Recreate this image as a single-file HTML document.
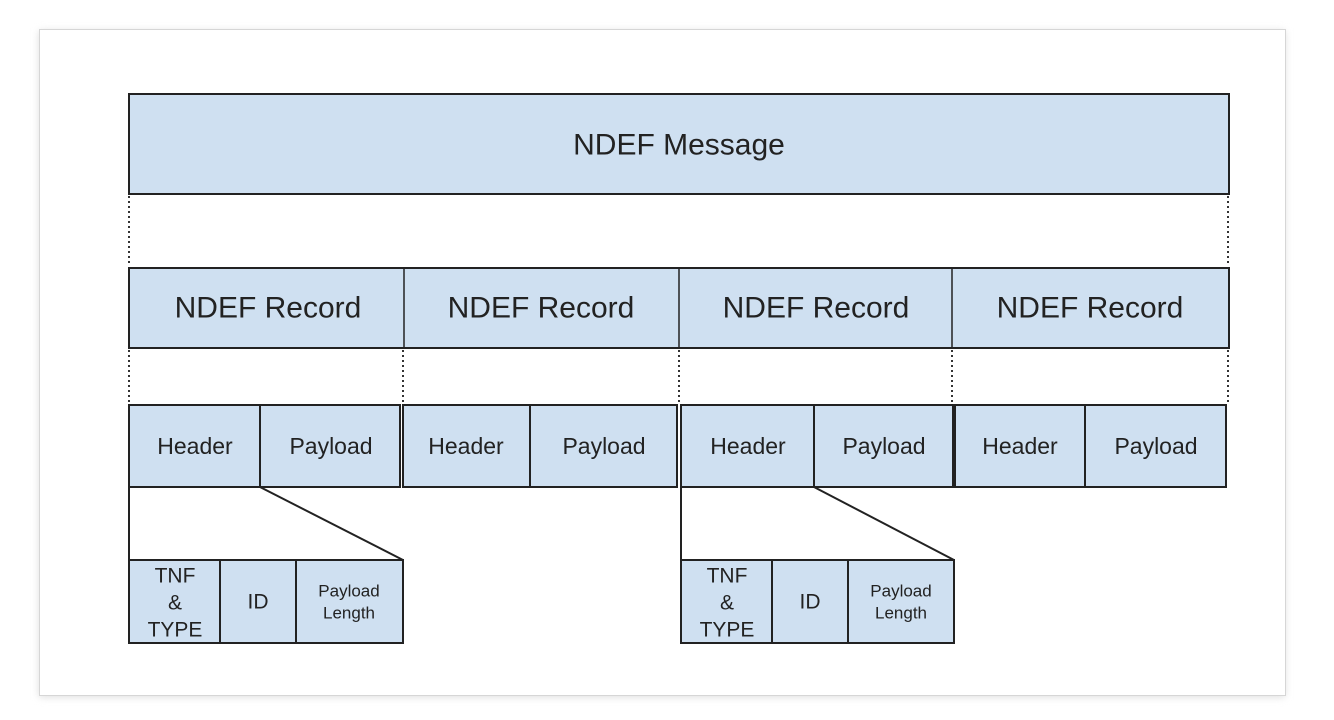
<!DOCTYPE html>
<html><head><style>
html,body{margin:0;padding:0;background:#fff;width:1334px;height:720px;overflow:hidden}
svg{display:block}
text{font-family:"Liberation Sans",Arial,sans-serif;fill:#222;text-anchor:middle;dominant-baseline:central}
</style></head><body>
<svg width="1334" height="720" viewBox="0 0 1334 720">
<defs><filter id="sh" x="-5%" y="-5%" width="110%" height="110%"><feGaussianBlur stdDeviation="4"/></filter></defs>
<rect x="39" y="31" width="1246" height="666" fill="#ddd" filter="url(#sh)"/>
<rect x="39.5" y="29.5" width="1246" height="666" fill="#fff" stroke="#d6d6d6"/>
<g stroke="#222" stroke-width="2" fill="#cfe0f1">
<rect x="129" y="94" width="1100" height="100"/>
<rect x="129" y="268" width="1100" height="80"/>
<rect x="129" y="405" width="131" height="82"/><rect x="260" y="405" width="140" height="82"/>
<rect x="403" y="405" width="127" height="82"/><rect x="530" y="405" width="147" height="82"/>
<rect x="681" y="405" width="133" height="82"/><rect x="814" y="405" width="139" height="82"/>
<rect x="955" y="405" width="130" height="82"/><rect x="1085" y="405" width="141" height="82"/>
<rect x="129" y="560" width="91" height="83"/><rect x="220" y="560" width="76" height="83"/><rect x="296" y="560" width="107" height="83"/>
<rect x="681" y="560" width="91" height="83"/><rect x="772" y="560" width="76" height="83"/><rect x="848" y="560" width="106" height="83"/>
</g>
<g stroke="#222" stroke-width="1.5" fill="none">
<line x1="404" y1="268" x2="404" y2="348"/><line x1="679" y1="268" x2="679" y2="348"/><line x1="952" y1="268" x2="952" y2="348"/>
</g>
<g stroke="#333" stroke-width="2" stroke-dasharray="2,3" fill="none">
<line x1="129" y1="196" x2="129" y2="266"/><line x1="1228" y1="196" x2="1228" y2="266"/>
<line x1="129" y1="350" x2="129" y2="403"/><line x1="403" y1="350" x2="403" y2="403"/>
<line x1="679" y1="350" x2="679" y2="403"/><line x1="952" y1="350" x2="952" y2="403"/><line x1="1228" y1="350" x2="1228" y2="403"/>
</g>
<g stroke="#222" stroke-width="2" fill="none">
<line x1="129" y1="487" x2="129" y2="560"/><line x1="260" y1="487" x2="403" y2="560"/>
<line x1="681" y1="487" x2="681" y2="560"/><line x1="814" y1="487" x2="954" y2="560"/>
</g>
<text x="679" y="145" font-size="30">NDEF Message</text>
<g font-size="30">
<text x="268" y="308">NDEF Record</text><text x="541" y="308">NDEF Record</text>
<text x="816" y="308">NDEF Record</text><text x="1090" y="308">NDEF Record</text>
</g>
<g font-size="23">
<text x="195" y="446">Header</text><text x="331" y="446">Payload</text>
<text x="466" y="446">Header</text><text x="604" y="446">Payload</text>
<text x="748" y="446">Header</text><text x="884" y="446">Payload</text>
<text x="1020" y="446">Header</text><text x="1156" y="446">Payload</text>
</g>
<g font-size="21">
<text x="175" y="576">TNF</text><text x="175" y="603">&amp;</text><text x="175" y="630">TYPE</text>
<text x="258" y="602">ID</text>
<text x="727" y="576">TNF</text><text x="727" y="603">&amp;</text><text x="727" y="630">TYPE</text>
<text x="810" y="602">ID</text>
</g>
<g font-size="17">
<text x="349" y="591">Payload</text><text x="349" y="613">Length</text>
<text x="901" y="591">Payload</text><text x="901" y="613">Length</text>
</g>
</svg>
</body></html>
